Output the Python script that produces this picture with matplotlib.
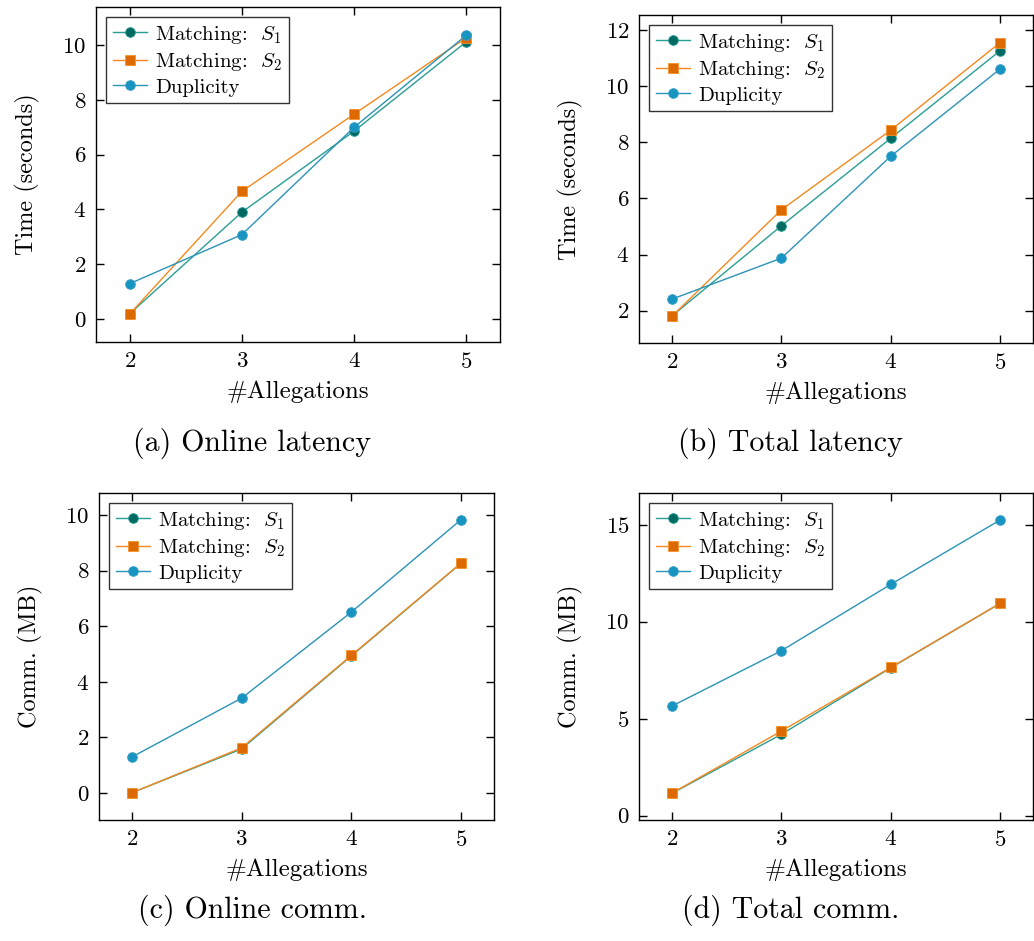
import matplotlib
matplotlib.use("Agg")
import matplotlib.pyplot as plt

# Dados
allegations = [2, 3, 4, 5]

online_lat_s1 = [0.19, 3.90, 6.86, 10.12]
online_lat_s2 = [0.18, 4.66, 7.48, 10.27]
online_lat_dup = [1.29, 3.08, 7.00, 10.36]

total_lat_s1 = [1.81, 5.02, 8.14, 11.26]
total_lat_s2 = [1.80, 5.59, 8.43, 11.55]
total_lat_dup = [2.41, 3.87, 7.50, 10.61]

online_comm_s1 = [0.0, 1.58, 4.93, 8.27]
online_comm_s2 = [0.0, 1.62, 4.95, 8.28]
online_comm_dup = [1.29, 3.41, 6.51, 9.84]

total_comm_s1 = [1.15, 4.19, 7.62, 10.94]
total_comm_s2 = [1.16, 4.36, 7.64, 10.95]
total_comm_dup = [5.65, 8.50, 11.92, 15.24]

labels = ["Matching:  $S_1$", "Matching:  $S_2$", "Duplicity"]
captions = ["(a) Online latency", "(b) Total latency", "(c) Online comm.", "(d) Total comm."]

plt.rcParams["font.family"] = "serif"
plt.rcParams["font.serif"] = ["cmr10"]
plt.rcParams["mathtext.fontset"] = "cm"
plt.rcParams["axes.formatter.use_mathtext"] = True
plt.rcParams["axes.unicode_minus"] = False

# Estilos das séries: (cor da linha, cor do marcador, borda, marcador)
estilos = [
    ("#2a9d94", "#006a62", "#2a9d94", "o"),
    ("#f5891f", "#dc6a00", "#f7922b", "s"),
    ("#2b93b8", "#1794c0", "#3aa0c8", "o"),
]

W, H = 1034, 941
fig = plt.figure(figsize=(10.34, 9.41), dpi=100)


def desenhar(ax, series, ylabel, ylim, yticks, caption, cap_xy):
    for vals, lab, (lc, mc, ec, mk) in zip(series, labels, estilos):
        ax.plot(allegations, vals, color=lc, lw=1.0, marker=mk,
                markersize=7 if mk == "o" else 6.5, markerfacecolor=mc,
                markeredgecolor=ec, markeredgewidth=0.6, label=lab)
    ax.set_xlim(1.7, 5.3)
    ax.set_ylim(*ylim)
    ax.set_xticks(allegations)
    ax.set_yticks(yticks)
    ax.tick_params(direction="in", top=True, right=True, length=6,
                   width=1.0, labelsize=16.5, pad=7)
    for s in ax.spines.values():
        s.set_linewidth(1.0)
    ax.set_xlabel("#Allegations", fontsize=18, labelpad=6)
    ax.set_ylabel(ylabel, fontsize=17.5, labelpad=16)
    leg = ax.legend(loc="upper left", fontsize=15, fancybox=False,
                    edgecolor="#333333", framealpha=1.0, handlelength=1.65,
                    handletextpad=0.4, borderpad=0.3, labelspacing=0.25,
                    borderaxespad=0.5)
    leg.get_frame().set_linewidth(1.0)
    fig.text(cap_xy[0] / W, 1 - cap_xy[1] / H, caption, ha="center",
             va="center", fontsize=21.5)


def eixo(x0, y0, x1, y1):
    return fig.add_axes([x0 / W, 1 - y1 / H, (x1 - x0) / W, (y1 - y0) / H])


ax_a = eixo(96, 7, 500, 342)
ax_b = eixo(639, 15, 1033, 343)
ax_c = eixo(99, 493, 494, 820)
ax_d = eixo(639, 493, 1033, 820)

desenhar(ax_a, [online_lat_s1, online_lat_s2, online_lat_dup],
         "Time (seconds)", (-0.84, 11.39), [0, 2, 4, 6, 8, 10],
         captions[0], (252, 443))
desenhar(ax_b, [total_lat_s1, total_lat_s2, total_lat_dup],
         "Time (seconds)", (0.85, 12.53), [2, 4, 6, 8, 10, 12],
         captions[1], (791, 443))
desenhar(ax_c, [online_comm_s1, online_comm_s2, online_comm_dup],
         "Comm. (MB)", (-0.98, 10.8), [0, 2, 4, 6, 8, 10],
         captions[2], (252, 910))
desenhar(ax_d, [total_comm_s1, total_comm_s2, total_comm_dup],
         "Comm. (MB)", (-0.22, 16.63), [0, 5, 10, 15],
         captions[3], (791, 910))

fig.savefig("out.png", dpi=100)
